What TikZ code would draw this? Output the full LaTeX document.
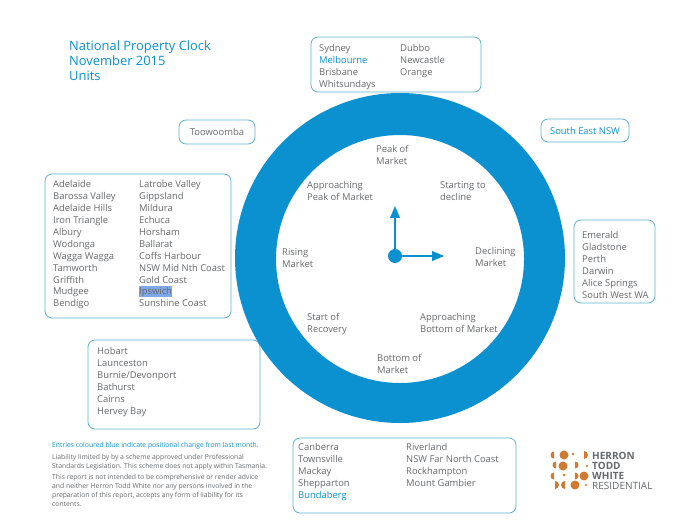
\documentclass[tikz,border=0pt]{standalone}
\usepackage{fontspec}
\setmainfont{Open Sans}
\usetikzlibrary{arrows}
\definecolor{clockblue}{HTML}{0B91CF}
\definecolor{boxblue}{HTML}{5DB3CF}
\definecolor{listgrey}{HTML}{66696C}
\definecolor{logoorange}{HTML}{CF7A32}
\definecolor{pickblue}{HTML}{7FA8E8}
\tikzset{
 listbox/.style={draw=boxblue, thick, rounded corners=7, inner sep=0},
 listtext/.style={anchor=north west, align=left, inner sep=0, text=listgrey, font=\fontsize{9.4}{11.9}\selectfont},
 clocktext/.style={anchor=north west, align=left, inner sep=0, text=listgrey, font=\fontsize{9.4}{11.9}\selectfont},
 notetext/.style={anchor=north west, align=left, inner sep=0, text=listgrey, font=\fontsize{6.8}{8.9}\selectfont},
 logotext/.style={anchor=west, inner sep=0, text=listgrey, font=\bfseries\fontsize{10}{10}\selectfont},
}
\newcommand{\bluename}[1]{\textcolor{clockblue}{#1}}
\begin{document}
\begin{tikzpicture}[x=1pt, y=-1pt]
\useasboundingbox (0,0) rectangle (700,525);
\fill[white] (0,0) rectangle (700,525);

\node[anchor=north west, align=left, inner sep=0, text=clockblue, font=\fontsize{12.9}{15.4}\selectfont] (title) at (69,40) {National Property Clock\\November 2015\\Units};

% boxes
\node[listbox, minimum width=170, minimum height=55] (boxtop) at (396,64.5) {};
\node[listtext] (topa) at (319,44.5) {Sydney\\\bluename{Melbourne}\\Brisbane\\Whitsundays};
\node[listtext] (topb) at (400,44.5) {Dubbo\\Newcastle\\Orange};

\node[listbox, minimum width=76, minimum height=24, text=listgrey, font=\fontsize{9.4}{11.9}\selectfont] (toow) at (217,132) {Toowoomba};
\node[listbox, minimum width=88, minimum height=23, text=clockblue, font=\fontsize{9.4}{11.9}\selectfont] (senew) at (585,130.5) {South East NSW};

\node[listbox, minimum width=186, minimum height=144] (boxleft) at (138,246) {};
\node[listtext] (lefta) at (53,180.5) {Adelaide\\Barossa Valley\\Adelaide Hills\\Iron Triangle\\Albury\\Wodonga\\Wagga Wagga\\Tamworth\\Griffith\\Mudgee\\Bendigo};
\fill[pickblue] (139,286) rectangle (172,297);
\node[listtext] (leftb) at (139,180.5) {Latrobe Valley\\Gippsland\\Mildura\\Echuca\\Horsham\\Ballarat\\Coffs Harbour\\NSW Mid Nth Coast\\Gold Coast\\Ipswich\\Sunshine Coast};

\node[listbox, minimum width=81, minimum height=83] (boxright) at (614.5,261.5) {};
\node[listtext] (righta) at (582,231.5) {Emerald\\Gladstone\\Perth\\Darwin\\Alice Springs\\South West WA};

\node[listbox, minimum width=172, minimum height=89] (boxhob) at (174,384.5) {};
\node[listtext] (hoba) at (97,347.5) {Hobart\\Launceston\\Burnie/Devonport\\Bathurst\\Cairns\\Hervey Bay};

\node[listbox, minimum width=223, minimum height=75] (boxbot) at (404.5,475.5) {};
\node[listtext] (bota) at (298,443.5) {Canberra\\Townsville\\Mackay\\Shepparton\\\bluename{Bundaberg}};
\node[listtext] (botb) at (406,443.5) {Riverland\\NSW Far North Coast\\Rockhampton\\Mount Gambier};

% clock
\fill[clockblue, even odd rule] (400,258) circle (165) (400,259) circle (124);
\fill[clockblue] (395,256) circle (7);
\node[inner sep=0] (hub) at (395,256) {};
\coordinate (handup) at (395,206);
\coordinate (handright) at (444,256);
\draw[clockblue, line width=1.8, ->, >=triangle 45] (hub) -- (handup);
\draw[clockblue, line width=1.8, ->, >=triangle 45] (hub) -- (handright);

\node[clocktext] (peak) at (376,145.5) {Peak of\\Market};
\node[clocktext] (start) at (440,181.5) {Starting to\\decline};
\node[clocktext] (apeak) at (307,181.5) {Approaching\\Peak of Market};
\node[clocktext] (decl) at (475,247.5) {Declining\\Market};
\node[clocktext] (abot) at (420,313.5) {Approaching\\Bottom of Market};
\node[clocktext] (bot) at (377,354.5) {Bottom of\\Market};
\node[clocktext] (rec) at (307,313.5) {Start of\\Recovery};
\node[clocktext] (rise) at (282,248.5) {Rising\\Market};

% notes
\node[notetext, text=clockblue] (noteblue) at (52,442.5) {Entries coloured blue indicate positional change from last month.};
\node[notetext] (noteb) at (52,454.5) {Liability limited by by a scheme approved under Professional\\Standards Legislation. This scheme does not apply within Tasmania.};
\node[notetext] (notec) at (52,474.5) {This report is not intended to be comprehensive or render advice\\and neither Herron Todd White nor any persons involved in the\\preparation of this report, accepts any form of liability for its\\contents.};

% logo
\foreach \x/\y/\r in {564/455/4.5,563/466/4.5,584/476/4.5,575/485/4.5,573/454/1.3,587/466/1.2,564/475/1.5,586/485/1.2} {
 \fill[logoorange] (\x,\y) circle (\r);
}
\foreach \x/\y/\r/\a in {554/455/3.5/90,584/455/4/-90,556/465/3.5/90,575/465/3.5/-90,
 554/476/3.5/90,575/476/3.5/-90,555/485/4/-90,565/485/4/90} {
 \fill[logoorange] (\x,\y) ++(\a:\r) arc (\a:\a+180:\r) -- cycle;
}
\node[logotext] (herron) at (592,456) {HERRON};
\node[logotext] (todd) at (592,466) {TODD};
\node[logotext] (white) at (592,475.5) {WHITE};
\node[logotext, font=\fontsize{10}{10}\selectfont] (resi) at (592,485.5) {RESIDENTIAL};
\end{tikzpicture}
\end{document}
